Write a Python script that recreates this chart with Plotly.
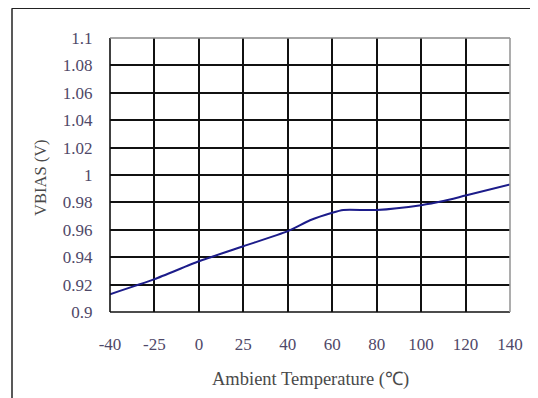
import numpy as np
import plotly.graph_objects as go

# Tick labels on x axis (equally spaced on the chart)
x_tick_labels = [-40, -25, 0, 25, 40, 60, 80, 100, 120, 140]
y_tick_vals = [0.9, 0.92, 0.94, 0.96, 0.98, 1.0, 1.02, 1.04, 1.06, 1.08, 1.1]
y_tick_text = ["0.9", "0.92", "0.94", "0.96", "0.98", "1", "1.02", "1.04", "1.06", "1.08", "1.1"]

# Series
temperature = [-40, -25, 0, 25, 40, 50, 60, 65, 80, 100, 110, 120, 140]
vbias = [0.913, 0.924, 0.937, 0.948, 0.959, 0.967, 0.9725, 0.9745, 0.9745, 0.978, 0.981, 0.985, 0.993]

# Map temperatures onto the equally-spaced category positions of the axis
positions = list(range(len(x_tick_labels)))
x_pos = np.interp(temperature, x_tick_labels, positions)

label_color = "#4f4868"
font_family = "Liberation Serif, Times New Roman, serif"

fig = go.Figure()
fig.add_trace(go.Scatter(
    x=x_pos, y=vbias, mode="lines",
    line=dict(color="#1c1c8a", width=2, shape="spline", smoothing=0.6),
    showlegend=False, hoverinfo="skip",
))

fig.update_layout(
    width=530, height=390,
    margin=dict(l=102, r=28, t=30, b=86),
    paper_bgcolor="white", plot_bgcolor="white",
    font=dict(family=font_family, size=16, color=label_color),
    xaxis=dict(
        range=[0, 9], tickmode="array", tickvals=positions,
        ticktext=[str(v) for v in x_tick_labels],
        showgrid=True, gridcolor="#111111", gridwidth=1.6,
        zeroline=False, showline=False,
        ticks="outside", ticklen=17, tickcolor="rgba(0,0,0,0)",
        tickfont=dict(family=font_family, size=17, color=label_color),
    ),
    yaxis=dict(
        range=[0.9, 1.1], tickmode="array", tickvals=y_tick_vals, ticktext=y_tick_text,
        showgrid=True, gridcolor="#111111", gridwidth=1.6,
        zeroline=False, showline=False,
        ticks="outside", ticklen=13, tickcolor="rgba(0,0,0,0)",
        tickfont=dict(family=font_family, size=17, color=label_color),
    ),
    shapes=[
        # plot-area frame
        dict(type="line", xref="paper", yref="paper", x0=0, x1=0, y0=0, y1=1,
             line=dict(color="#111111", width=1.6)),
        dict(type="line", xref="paper", yref="paper", x0=0, x1=1, y0=0, y1=0,
             line=dict(color="#111111", width=1.6)),
        dict(type="line", xref="paper", yref="paper", x0=0, x1=1, y0=1, y1=1,
             line=dict(color="#888888", width=1.6)),
        dict(type="line", xref="paper", yref="paper", x0=1, x1=1, y0=0, y1=1,
             line=dict(color="#999999", width=1.6)),
        # outer border of the figure
        dict(type="line", xref="paper", yref="paper", x0=-0.245, x1=-0.245, y0=-0.33, y1=1.109,
             line=dict(color="#222222", width=1.5)),
        dict(type="line", xref="paper", yref="paper", x0=-0.245, x1=1.065, y0=1.109, y1=1.109,
             line=dict(color="#222222", width=1.5)),
        dict(type="line", xref="paper", yref="paper", x0=1.065, x1=1.065, y0=-0.33, y1=1.109,
             line=dict(color="#222222", width=1.5)),
    ],
    annotations=[
        dict(text="Ambient Temperature (℃)", xref="paper", yref="paper",
             x=0.5, y=-0.248, xanchor="center", yanchor="middle", showarrow=False,
             font=dict(family=font_family, size=18.5, color="#4a4a4a")),
        dict(text="VBIAS (V)", xref="paper", yref="paper",
             x=-0.172, y=0.49, xanchor="center", yanchor="middle", showarrow=False,
             textangle=-90,
             font=dict(family=font_family, size=16.5, color="#4a4a4a")),
    ],
)

fig.write_html("out.html")
